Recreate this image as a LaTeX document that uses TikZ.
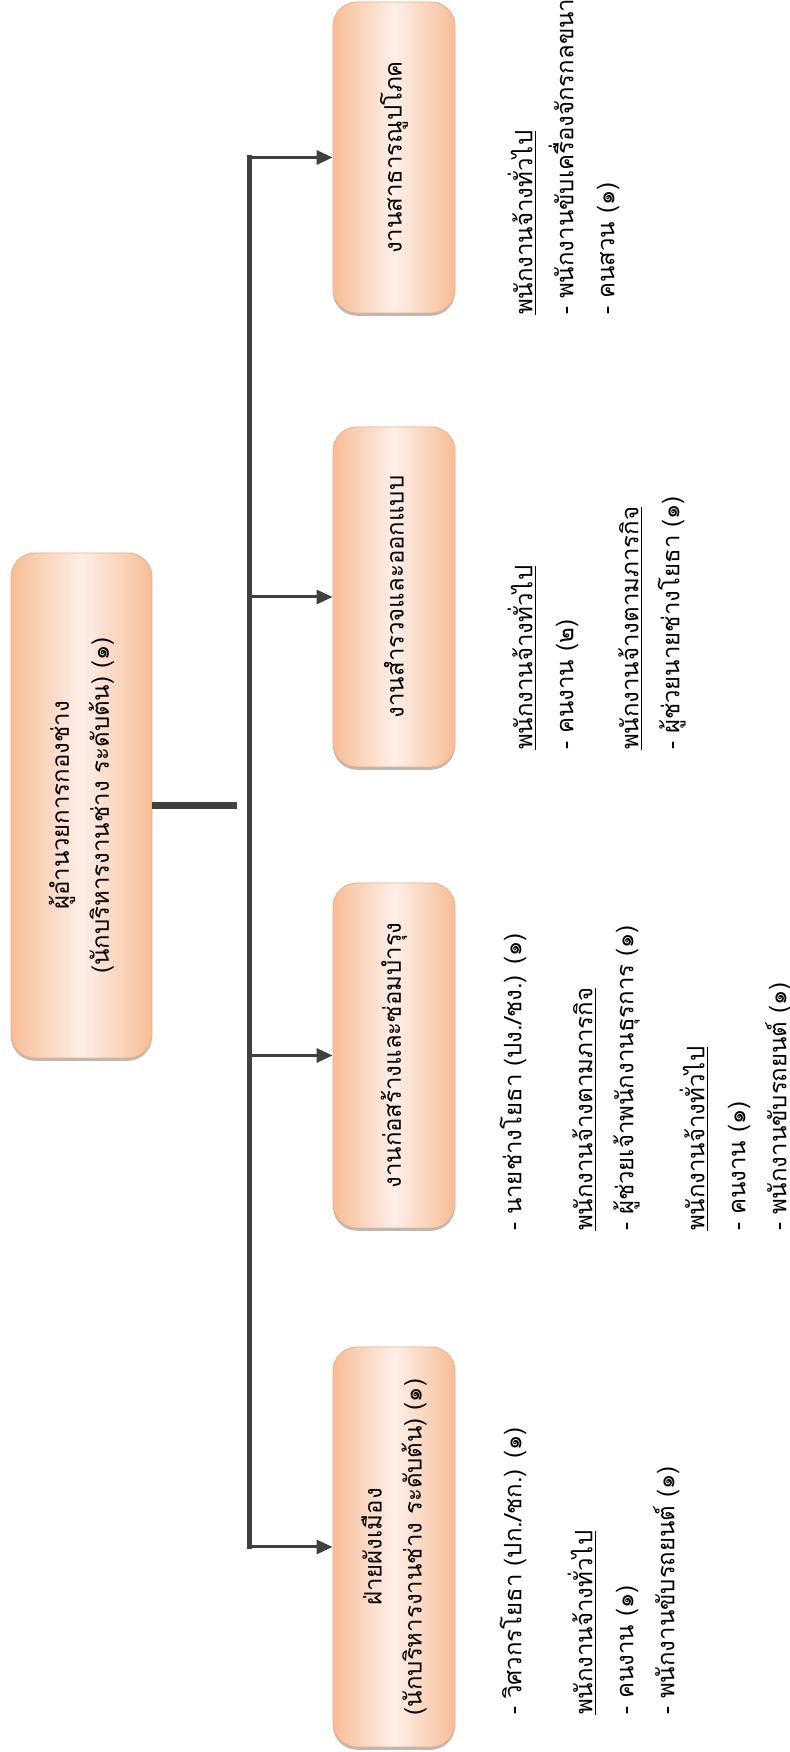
\documentclass[tikz,border=0pt]{standalone}
\usepackage{fontspec}
\newfontfamily\thaifont[Script=Thai]{Loma}
\usetikzlibrary{positioning,arrows.meta,shadows}
\definecolor{boxedge}{HTML}{F2AE82}
\definecolor{boxdark}{HTML}{F7BD96}
\definecolor{boxlight}{HTML}{FDEFE8}
\definecolor{linegray}{HTML}{404040}
\tikzset{every picture/.style={/utils/exec={\thaifont}}}
\tikzset{
  unit/.style={draw=boxedge, thin, rounded corners=12pt, left color=boxdark,
    right color=boxdark, middle color=boxlight, align=center,
    minimum height=61pt, font=\fontsize{12}{20}\selectfont,
    drop shadow={shadow xshift=0pt, shadow yshift=-1.4pt, fill=black!55, opacity=.5}},
  staff/.style={align=left, inner sep=0pt, font=\fontsize{12}{20.5}\selectfont},
  link/.style={draw=linegray, line width=1.5pt, -{Triangle[length=8pt,width=7pt]}},
  trunk/.style={draw=linegray, line width=2.5pt, line cap=rect},
  bar/.style={draw=linegray, line width=3.5pt},
}

\begin{document}
\begin{tikzpicture}[x=0.5pt, y=0.5pt]
  \useasboundingbox (0,0) rectangle (789,1752);
  % chart laid out flat, then turned a quarter left
  \begin{scope}[rotate=90, transform shape]
    \node [unit, minimum width=252.5pt, minimum height=70.5pt] (chief) at (946.5,-81.5)
      {ผู้อำนวยการกองช่าง\\(นักบริหารงานช่าง ระดับต้น) (๑)};

    \node [unit, minimum width=155.5pt] (utility) at (1594.5,-394) {งานสาธารณูปโภค};
    \node [unit, minimum width=170pt] (survey) at (1155,-394) {งานสำรวจและออกแบบ};
    \node [unit, minimum width=172.5pt] (build) at (696.5,-394) {งานก่อสร้างและซ่อมบำรุง};
    \node [unit, minimum width=200pt] (planning) at (205,-394)
      {ฝ่ายผังเมือง\\(นักบริหารงานช่าง ระดับต้น) (๑)};

    \coordinate (hub) at (946.5,-237);
    \coordinate (trunk) at (0,-249);
    \draw [bar] (chief.south) -- (hub);
    \draw [trunk] (utility.north |- trunk) -- (planning.north |- trunk);
    \foreach \unitname in {utility,survey,build,planning}
      \draw [link] (\unitname.north |- trunk) -- (\unitname.north);

    \node [staff, below right=26pt and -1pt of utility.south west] (utilitystaff)
      {\underline{พนักงานจ้างทั่วไป}\\
       - พนักงานขับเครื่องจักรกลขนาดเบา\\
       - คนสวน (๑)};
    \node [staff, below right=26pt and 8.5pt of survey.south west] (surveystaff)
      {\underline{พนักงานจ้างทั่วไป}\\
       - คนงาน (๒)\\[12pt]
       \underline{พนักงานจ้างตามภารกิจ}\\
       - ผู้ช่วยนายช่างโยธา (๑)};
    \node [staff, below right=22pt and -1.5pt of build.south west] (buildstaff)
      {- นายช่างโยธา (ปง./ชง.) (๑)\\[15pt]
       \underline{พนักงานจ้างตามภารกิจ}\\
       - ผู้ช่วยเจ้าพนักงานธุรการ (๑)\\[15pt]
       \underline{พนักงานจ้างทั่วไป}\\
       - คนงาน (๑)\\
       - พนักงานขับรถยนต์ (๑)};
    \node [staff, below right=22pt and 16pt of planning.south west] (planningstaff)
      {- วิศวกรโยธา (ปก./ชก.) (๑)\\[15pt]
       \underline{พนักงานจ้างทั่วไป}\\
       - คนงาน (๑)\\
       - พนักงานขับรถยนต์ (๑)};
  \end{scope}
\end{tikzpicture}
\end{document}
